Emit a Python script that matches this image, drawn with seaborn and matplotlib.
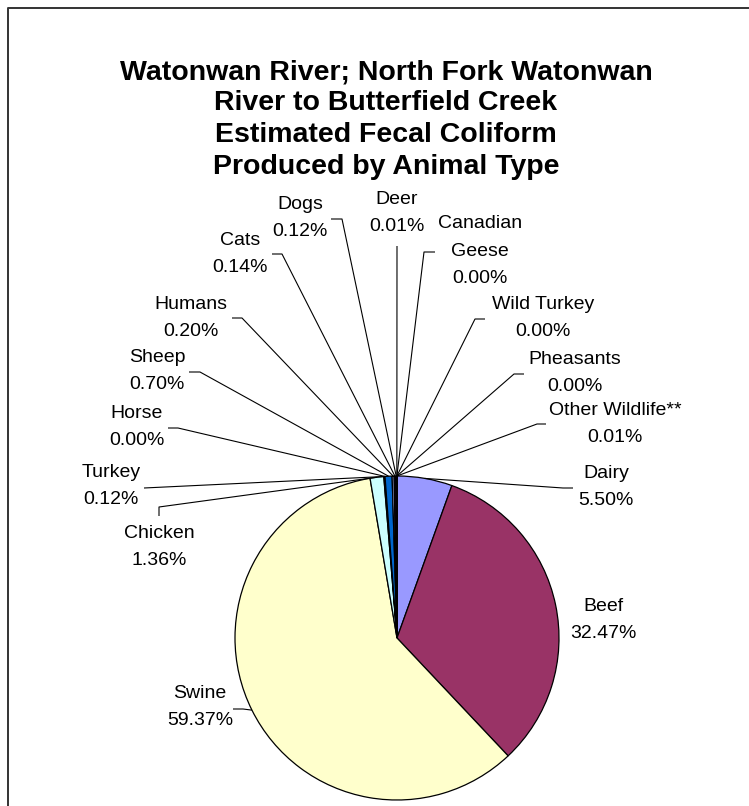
import numpy as np
import matplotlib
matplotlib.use("Agg")
import matplotlib.pyplot as plt
import seaborn as sns

# --- data (clockwise from 12 o'clock) ---
animals = ["Dairy", "Beef", "Swine", "Chicken", "Turkey", "Horse", "Sheep",
           "Humans", "Cats", "Dogs", "Deer", "Canadian Geese", "Wild Turkey",
           "Pheasants", "Other Wildlife**"]
percent = [5.50, 32.47, 59.37, 1.36, 0.12, 0.00, 0.70,
           0.20, 0.14, 0.12, 0.01, 0.00, 0.00,
           0.00, 0.01]
label_names = ["Dairy", "Beef", "Swine", "Chicken", "Turkey", "Horse", "Sheep",
               "Humans", "Cats", "Dogs", "Deer", "Canadian\nGeese", "Wild Turkey",
               "Pheasants", "Other Wildlife**"]
slice_colors = ["#9999FF", "#993366", "#FFFFCC", "#CCFFFF", "#660066", "#FF8080",
                "#0066CC", "#CCCCFF", "#000080", "#FF00FF", "#FFFF00", "#00FFFF",
                "#800080", "#800000", "#008080"]
title_lines = ["Watonwan River; North Fork Watonwan",
               "River to Butterfield Creek",
               "Estimated Fecal Coliform",
               "Produced by Animal Type"]

# --- layout (pixel units, y measured from the top) ---
W, H = 749, 806
pie_center = (397, 638)
pie_radius = 162
label_pos = [(606, 487), (603, 620), (200, 707), (159, 547), (111, 486),
             (137, 427), (157, 371), (191, 318), (240, 254), (300, 218),
             (397, 213), (480, 251), (543, 318), (575, 373), (615, 424)]
leader_pts = [[(573, 488), (563, 488)], None, [(233, 709), (243, 709)],
              [(159, 516), (159, 507)], [(144, 488)], [(168, 428), (178, 428)],
              [(189, 372), (200, 372)], [(232, 318), (242, 318)],
              [(272, 254), (282, 254)], [(331, 219), (342, 219)],
              [(397, 246)], [(435, 252), (424, 252)], [(485, 319), (475, 319)],
              [(524, 374), (514, 374)], [(546, 424), (537, 424)]]
line_pitch = 27.5

sns.set_style("white")
plt.rcParams["font.family"] = ["Liberation Sans", "DejaVu Sans"]

fig = plt.figure(figsize=(W / 100, H / 100), dpi=100)
ax = fig.add_axes([0, 0, 1, 1])

wedges, _ = ax.pie(percent, colors=slice_colors, startangle=90, counterclock=False,
                   center=(pie_center[0], H - pie_center[1]), radius=pie_radius,
                   wedgeprops=dict(edgecolor="black", linewidth=0.9))
ax.set_xlim(0, W)
ax.set_ylim(0, H)
ax.set_aspect("equal")
ax.axis("off")

for i, w in enumerate(wedges):
    # labels: name line(s) + percentage
    lines = label_names[i].split("\n") + [f"{percent[i]:.2f}%"]
    cx, cy = label_pos[i]
    n = len(lines)
    for k, line in enumerate(lines):
        y = cy + (k - (n - 1) / 2) * line_pitch
        ax.text(cx, H - y, line, ha="center", va="center", fontsize=14, color="black")
    # leader line from the label to the middle of the slice edge
    if leader_pts[i] is not None:
        mid = np.deg2rad((w.theta1 + w.theta2) / 2)
        ex = w.center[0] + w.r * np.cos(mid)
        ey = w.center[1] + w.r * np.sin(mid)
        xs = [p[0] for p in leader_pts[i]] + [ex]
        ys = [H - p[1] for p in leader_pts[i]] + [ey]
        ax.plot(xs, ys, color="black", linewidth=0.8, solid_capstyle="butt")

title_y = [72, 103.5, 135, 166.5]
for t, y in zip(title_lines, title_y):
    ax.text(386, H - y, t, ha="center", va="center", fontsize=20.5,
            fontweight="bold", color="black")

# chart area border (top and left edges visible in the crop)
ax.plot([8, 8, W], [0, H - 8, H - 8], color="#333333", linewidth=1.4)

fig.savefig("out.png", dpi=100)
